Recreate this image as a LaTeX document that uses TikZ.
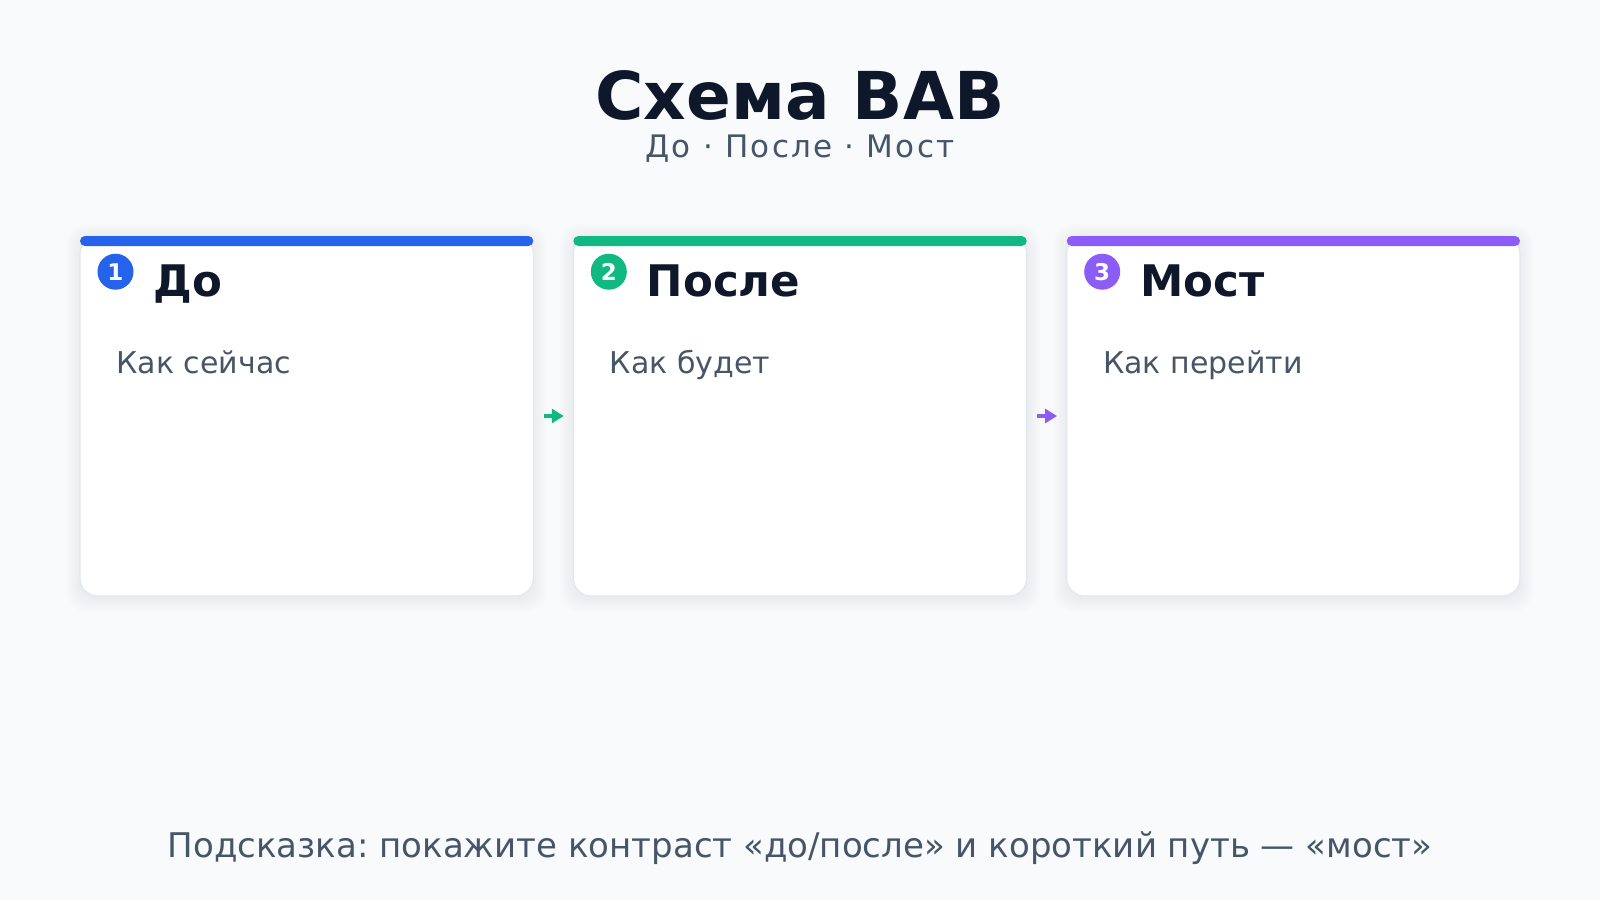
\documentclass[tikz,border=0pt]{standalone}
\usepackage{fontspec}
\setmainfont{DejaVu Sans}
\usetikzlibrary{arrows.meta}
\frenchspacing
\newlength{\du}
\setlength{\du}{1pt}
\definecolor{pagebg}{HTML}{F8FAFC}
\definecolor{cardline}{HTML}{E2E8F0}
\definecolor{titleink}{HTML}{0F172A}
\definecolor{bodyink}{HTML}{475569}
\definecolor{stepblue}{HTML}{2563EB}
\definecolor{stepgreen}{HTML}{10B981}
\definecolor{steppurple}{HTML}{8B5CF6}
\tikzset{
  cardbox/.style={draw=cardline, line width=1.2\du, fill=white, rounded corners=18\du,
    minimum width=453.3\du, minimum height=360\du, inner sep=0pt},
  badge/.style={circle, minimum size=36\du, inner sep=0pt, text=white,
    font=\bfseries\fontsize{23}{23}\selectfont},
  cardhead/.style={anchor=base west, inner sep=0pt, text=titleink,
    font=\bfseries\fontsize{43.5}{50}\selectfont},
  cardtext/.style={anchor=base west, inner sep=0pt, text=bodyink,
    font=\fontsize{30}{36}\selectfont},
  flowarrow/.style={line width=4.5pt, -{Triangle[length=12pt,width=14pt]},
    shorten <=10pt, shorten >=9pt}
}

\begin{document}
\begin{tikzpicture}
\pgftransformxscale{1.000000}
\pgftransformyscale{-1.000000}
\fill[pagebg] (0\du,0\du) rectangle (1600\du,900\du);
\useasboundingbox (0\du,0\du) rectangle (1600\du,900\du);
% title
\node[anchor=base, inner sep=0pt, text=titleink, font=\bfseries\fontsize{66}{72}\selectfont] (title) at (800\du,119\du){Схема BAB};
\node[anchor=base, inner sep=0pt, text=bodyink, font=\fontsize{31}{36}\selectfont\addfontfeature{LetterSpace=7.5}] (subtitle) at (800\du,157.5\du){До · После · Мост};
% soft shadows under the cards
\foreach \cx in {80,573.3,1066.7}{
  \foreach \s in {1,...,14}{
    \fill[black, opacity=0.0045, rounded corners=18\du]
      (\cx\du-\s\du,236\du-\s\du+2\du) rectangle (\cx\du+453.3\du+\s\du,596\du+\s\du+2\du);
  }
}
% cards
\node[cardbox] (before) at (306.7\du,416\du){};
\node[cardbox] (after) at (800\du,416\du){};
\node[cardbox] (bridge) at (1293.3\du,416\du){};
% colour bars
\fill[stepblue, rounded corners=5\du] (80\du,236\du) rectangle (533.3\du,246\du);
\fill[stepgreen, rounded corners=5\du] (573.3\du,236\du) rectangle (1026.7\du,246\du);
\fill[steppurple, rounded corners=5\du] (1066.7\du,236\du) rectangle (1520\du,246\du);
% badges
\node[badge, fill=stepblue] (num1) at (115.5\du,271.7\du){1};
\node[badge, fill=stepgreen] (num2) at (608.8\du,271.7\du){2};
\node[badge, fill=steppurple] (num3) at (1102.2\du,271.7\du){3};
% headings
\node[cardhead] (headbefore) at (153.3\du,296.7\du){До};
\node[cardhead] (headafter) at (646.7\du,296.7\du){После};
\node[cardhead] (headbridge) at (1140\du,296.7\du){Мост};
% texts
\node[cardtext] (textbefore) at (116.3\du,373.3\du){Как сейчас};
\node[cardtext] (textafter) at (609.6\du,373.3\du){Как будет};
\node[cardtext] (textbridge) at (1103\du,373.3\du){Как перейти};
% arrows
\draw[flowarrow, stepgreen] (before.east) -- (after.west);
\draw[flowarrow, steppurple] (after.east) -- (bridge.west);
% hint
\node[anchor=base, inner sep=0pt, text=bodyink, font=\fontsize{34}{40}\selectfont] (hint) at (800\du,857.7\du){Подсказка: покажите контраст «до/после» и короткий путь — «мост»};
\end{tikzpicture}
\end{document}
